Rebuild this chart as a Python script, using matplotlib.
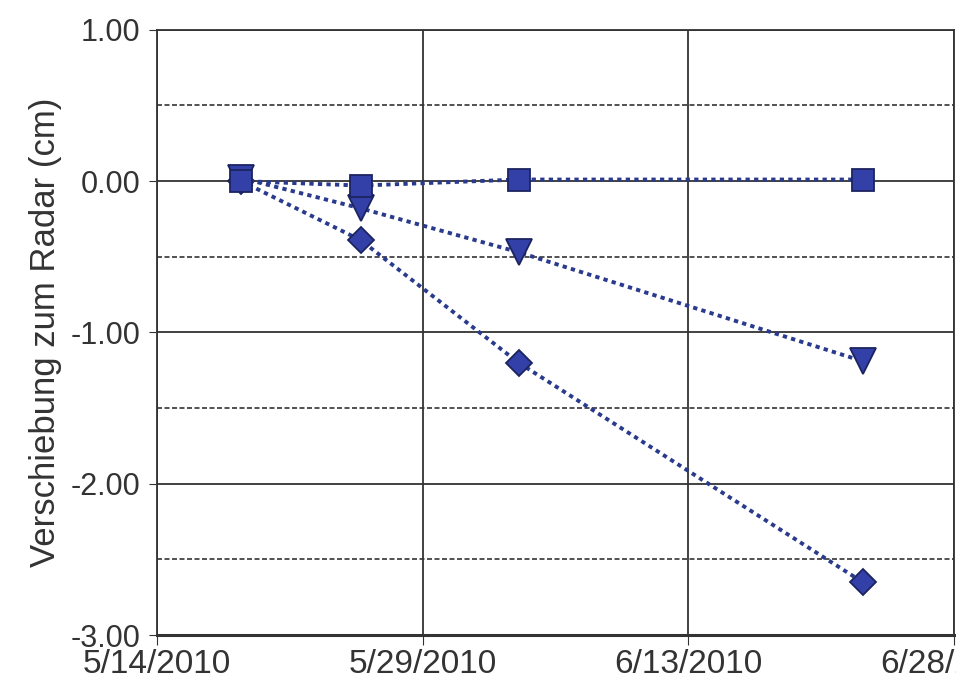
import matplotlib
matplotlib.use("Agg")
import matplotlib.pyplot as plt
from matplotlib.ticker import MultipleLocator, FormatStrFormatter
import pandas as pd

plt.rcParams['font.family'] = ['Liberation Sans', 'DejaVu Sans']

# measurement dates
dates = pd.to_datetime(["2010-05-18 18:00", "2010-05-25 12:00",
                        "2010-06-03 10:00", "2010-06-22 20:00"])

# displacement towards the radar (cm)
squares = [0.00, -0.03, 0.01, 0.01]
triangles = [0.02, -0.18, -0.47, -1.19]
diamonds = [0.00, -0.39, -1.20, -2.65]

x_ticks = pd.to_datetime(["2010-05-14", "2010-05-29", "2010-06-13", "2010-06-28"])
x_labels = ["5/14/2010", "5/29/2010", "6/13/2010", "6/28/2010"]

line_col = '#2a3a8c'
face_col = '#3340a8'
edge_col = '#1c2460'

fig = plt.figure(figsize=(9.56, 6.91), dpi=100)
ax = fig.add_axes([0.164, 0.081, 0.834, 0.876])

series = [(diamonds, 'D', 13), (triangles, 'v', 19), (squares, 's', 16)]
for vals, mk, ms in series:
    ax.plot(dates, vals, linestyle=(0, (1.1, 1.1)), linewidth=2.8, color=line_col,
            marker=mk, markersize=ms, markerfacecolor=face_col,
            markeredgecolor=edge_col, markeredgewidth=1.3, zorder=3)

ax.set_xlim(x_ticks[0], x_ticks[-1])
ax.set_ylim(-3, 1)
ax.set_xticks(x_ticks)
ax.set_xticklabels(x_labels)
ax.yaxis.set_major_locator(MultipleLocator(1))
ax.yaxis.set_minor_locator(MultipleLocator(0.5))
ax.yaxis.set_major_formatter(FormatStrFormatter('%.2f'))

ax.grid(which='major', color='#333333', linewidth=1.3)
ax.grid(which='minor', axis='y', color='#333333', linewidth=1.2, linestyle=(0, (3, 1.5)))
ax.tick_params(axis='y', which='minor', length=0)
ax.tick_params(axis='y', which='major', labelsize=22, length=6, color='#333333', pad=6)
ax.tick_params(axis='x', which='major', labelsize=24, length=7, color='#333333', pad=3)
for lab in ax.get_xticklabels() + ax.get_yticklabels():
    lab.set_color('#333333')

for s in ['left', 'top', 'right']:
    ax.spines[s].set_color('#333333')
    ax.spines[s].set_linewidth(1.3)
ax.spines['bottom'].set_color('#333333')
ax.spines['bottom'].set_linewidth(2.2)

ax.set_ylabel('Verschiebung zum Radar (cm)', fontsize=25, color='#333333', labelpad=6)

fig.savefig('out.png', dpi=100)
